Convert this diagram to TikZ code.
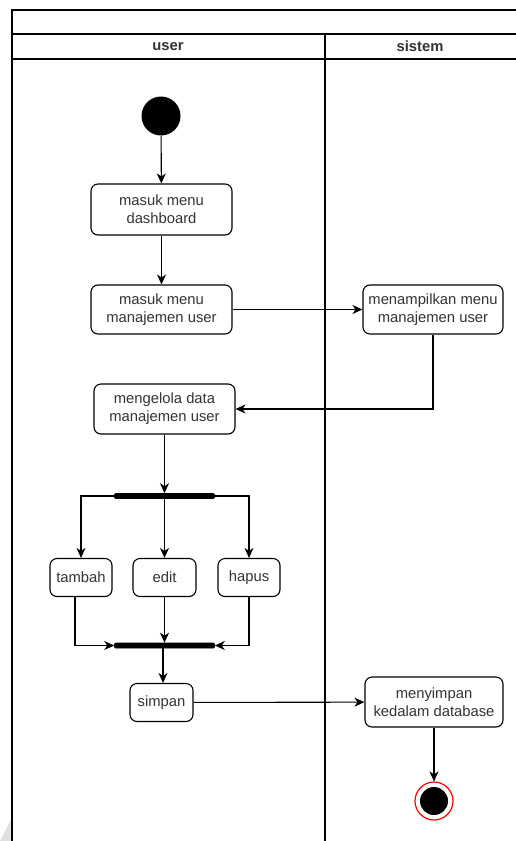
\documentclass[tikz,border=0pt]{standalone}
\usepackage{fontspec}
\setmainfont{Liberation Sans}
\usetikzlibrary{arrows.meta}
\begin{document}
\begin{tikzpicture}[x=1pt,y=-1pt,
  line width=1.1pt,
  every node/.style={font=\fontsize{14.8}{17.8}\selectfont, text=black!80},
  act/.style={draw, rounded corners=7pt, align=center, inner sep=0pt, fill=white},
  bar/.style={fill=black, draw=black, line width=0.6pt, rounded corners=1pt, minimum width=100pt, minimum height=5pt, inner sep=0pt},
  flow/.style={-{Stealth[length=10pt,width=9pt,inset=3pt]}},
  lane/.style={font=\bfseries\fontsize{14.8}{17.8}\selectfont}
]
\useasboundingbox (0,0) rectangle (515,841);
\fill[white] (0,0) rectangle (515,841);
% faint grey corner at the lower left
\fill[black!12] (0,841) -- (12,818) -- (12,841) -- cycle;

% swimlane frame
\draw (12,841) -- (12,10) -- (516,10);
\draw (12,34) -- (516,34);
\draw (12,59) -- (516,59);
\draw (325,34) -- (325,841);
\node[lane] (luser) at (168,46.5) {user};
\node[lane] (lsys) at (420,46.5) {sistem};

% start node
\node[circle, fill=black, minimum size=39pt, inner sep=0pt] (start) at (161,116) {};

% actions
\node[act, minimum width=141pt, minimum height=51pt] (dash) at (161.5,209.5) {masuk menu\\dashboard};
\node[act, minimum width=141pt, minimum height=49pt] (manaj) at (161.5,309.5) {masuk menu\\manajemen user};
\node[act, minimum width=140pt, minimum height=49pt] (tampil) at (433,309.5) {menampilkan menu\\manajemen user};
\node[act, minimum width=141pt, minimum height=50pt] (kelola) at (164.5,409) {mengelola data\\manajemen user};
\node[bar] (fork) at (164.5,496) {};
\node[act, minimum width=62pt, minimum height=38pt] (tambah) at (81,577.5) {tambah};
\node[act, minimum width=63pt, minimum height=38pt] (edit) at (164.5,577.5) {edit};
\node[act, minimum width=62pt, minimum height=38pt] (hapus) at (249,577.5) {hapus};
\node[bar] (join) at (164.5,645.5) {};
\node[act, minimum width=63pt, minimum height=38pt] (simpan) at (161.5,702.5) {simpan};
\node[act, minimum width=138pt, minimum height=50pt] (db) at (434,702) {menyimpan\\kedalam database};

% final node
\node[circle, draw=red, line width=1.2pt, fill=white, minimum size=38pt, inner sep=0pt] (final) at (434,801) {};
\node[circle, fill=black, minimum size=28pt, inner sep=0pt] (finalin) at (final.center) {};

% control flow
\draw[flow] (start) -- (dash);
\draw[flow] (dash) -- (manaj);
\draw[flow] (manaj) -- (tampil);
\draw[flow] (tampil.south) |- (kelola.east);
\draw[flow] (kelola) -- (fork);
\draw[flow] (fork.west) -| (tambah.north);
\draw[flow] (fork.south) -- (edit.north);
\draw[flow] (fork.east) -| (hapus.north);
\draw[flow] (tambah.south -| 75,0) |- (join.west);
\draw[flow] (edit.south) -- (join.north);
\draw[flow] (hapus.south) |- (join.east);
\draw[flow] (join.south -| 163,0) -- (simpan.north -| 163,0);
\draw[flow] (simpan) -- (db);
\draw[flow] (db) -- (final);
\end{tikzpicture}
\end{document}
